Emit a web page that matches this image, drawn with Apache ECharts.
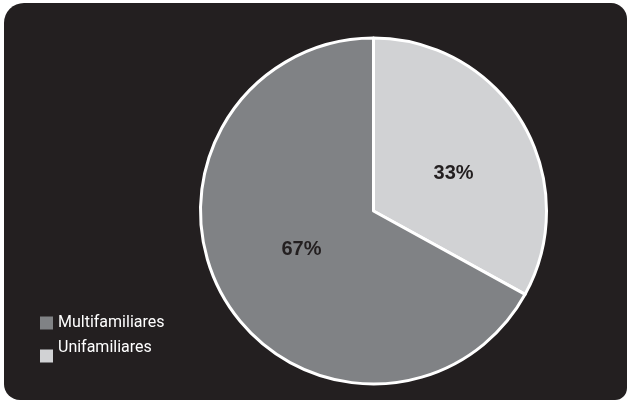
<!DOCTYPE html>
<html>
<head>
<meta charset="utf-8">
<style>
  html, body { margin: 0; padding: 0; background: #ffffff; }
  #chart { width: 627px; height: 400px; }
</style>
<script src="https://cdn.jsdelivr.net/npm/echarts@6/dist/echarts.min.js"></script>
</head>
<body>
<div id="chart"></div>
<script>
// Housing type shares (percent)
const categories = ['Unifamiliares', 'Multifamiliares'];
const shares = [33, 67];
const sliceColors = ['#d1d2d4', '#808285'];
const legendOrder = ['Multifamiliares', 'Unifamiliares'];

// small nudges so the percentage labels sit where they read best
const labelNudges = { Unifamiliares: [3, 8], Multifamiliares: [5, -7] };

const chart = echarts.init(document.getElementById('chart'), null, { renderer: 'canvas' });

const pieData = categories.map((name, i) => ({
  name: name,
  value: shares[i],
  itemStyle: { color: sliceColors[i] },
  label: { offset: labelNudges[name] }
}));

chart.setOption({
  backgroundColor: '#ffffff',
  animation: false,
  graphic: [{
    type: 'rect',
    z: -10,
    shape: { x: 4, y: 3, width: 623, height: 397, r: [20, 16, 12, 16] },
    style: { fill: '#231f20' }
  }],
  legend: {
    data: legendOrder,
    orient: 'vertical',
    left: 35,
    top: 310,
    padding: 5,
    icon: 'rect',
    itemWidth: 13,
    itemHeight: 13,
    itemGap: 9,
    itemStyle: { borderWidth: 0 },
    // the last entry's text sits a little above its swatch
    formatter: name => (name === legendOrder[1] ? name + '\n ' : name),
    textStyle: { color: '#ffffff', fontSize: 16, lineHeight: 16, fontFamily: 'Roboto' },
    selectedMode: false
  },
  series: [{
    type: 'pie',
    center: [373.5, 211],
    radius: [0, 173],
    startAngle: 90,
    clockwise: true,
    data: pieData,
    itemStyle: { borderColor: '#ffffff', borderWidth: 3 },
    label: {
      show: true,
      position: 'inner',
      formatter: '{c}%',
      color: '#231f20',
      fontSize: 20,
      fontWeight: 'bold',
      fontFamily: 'Liberation Sans'
    },
    labelLine: { show: false },
    emphasis: { disabled: true }
  }]
});
</script>
</body>
</html>
